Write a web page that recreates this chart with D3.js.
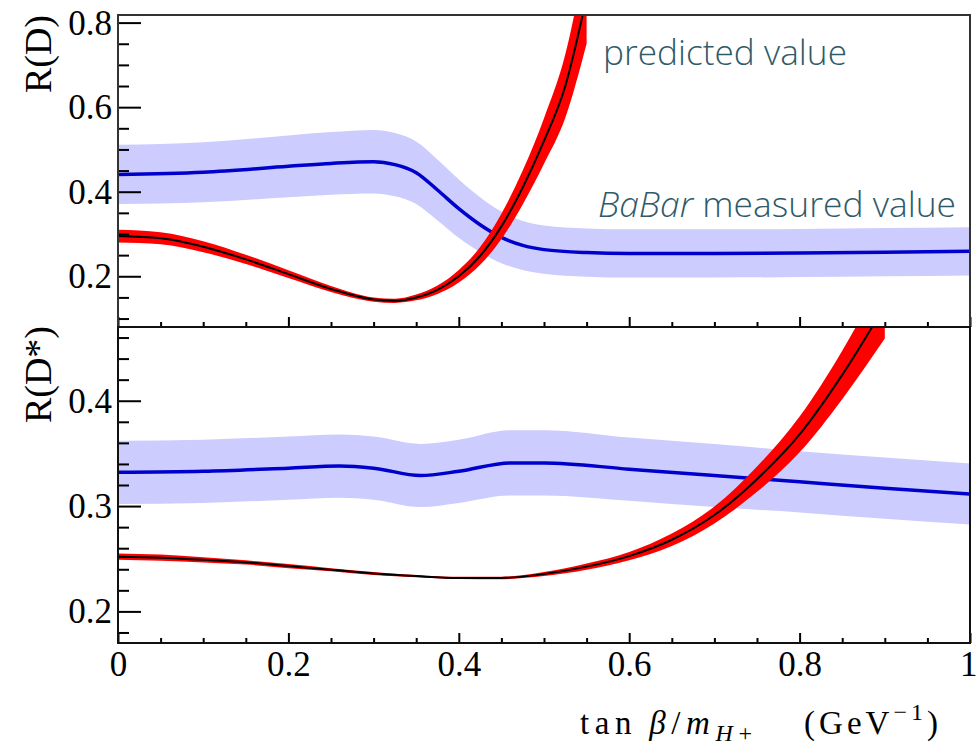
<!DOCTYPE html>
<html>
<head>
<meta charset="utf-8">
<script src="https://cdn.jsdelivr.net/npm/d3@7"></script>
<style>
  html, body { margin: 0; padding: 0; background: #fff; }
  svg { display: block; }
</style>
</head>
<body>
<svg id="chart" width="976" height="750"></svg>
<script>
// x axis: tan(beta)/m_H+ in GeV^-1
const xMajorTicks = [0, 0.2, 0.4, 0.6, 0.8, 1];
const xTickLabels = ["0", "0.2", "0.4", "0.6", "0.8", "1"];

// R(D) panel
const rdTicks = [0.2, 0.4, 0.6, 0.8];
const rdTickLabels = ["0.2", "0.4", "0.6", "0.8"];

// R(D) predicted (2HDM type II) with uncertainty
const xRdPred   = [0, 0.05, 0.1, 0.15, 0.2, 0.25, 0.3, 0.325, 0.35, 0.375, 0.4, 0.425, 0.45, 0.475, 0.5, 0.525, 0.55];
const rdPred    = [0.295, 0.290, 0.270, 0.240, 0.205, 0.170, 0.145, 0.142, 0.150, 0.168, 0.200, 0.248, 0.318, 0.410, 0.520, 0.650, 0.860];
const rdPredErr = [0.015, 0.014, 0.013, 0.011, 0.009, 0.007, 0.005, 0.005, 0.007, 0.010, 0.015, 0.021, 0.030, 0.040, 0.054, 0.075, 0.110];

// R(D) measured by BaBar with uncertainty
const xRdMeas   = [0, 0.1, 0.2, 0.25, 0.3, 0.325, 0.35, 0.375, 0.4, 0.425, 0.45, 0.475, 0.5, 0.55, 0.6, 0.7, 0.8, 0.9, 1.0];
const rdMeas    = [0.441, 0.446, 0.460, 0.467, 0.471, 0.464, 0.445, 0.404, 0.360, 0.322, 0.292, 0.273, 0.263, 0.256, 0.254, 0.254, 0.255, 0.257, 0.259];
const rdMeasErr = [0.070, 0.071, 0.073, 0.074, 0.075, 0.075, 0.074, 0.072, 0.069, 0.065, 0.061, 0.058, 0.057, 0.057, 0.057, 0.057, 0.057, 0.057, 0.057];

// R(D*) panel
const rdsTicks = [0.2, 0.3, 0.4];
const rdsTickLabels = ["0.2", "0.3", "0.4"];

// R(D*) predicted with uncertainty
const xRdsPred   = [0, 0.05, 0.1, 0.15, 0.2, 0.25, 0.3, 0.35, 0.4, 0.45, 0.5, 0.55, 0.6, 0.65, 0.7, 0.75, 0.8, 0.85, 0.9];
const rdsPred    = [0.252, 0.251, 0.249, 0.2465, 0.243, 0.2395, 0.236, 0.2335, 0.2318, 0.2318, 0.2355, 0.2425, 0.2525, 0.268, 0.2915, 0.3255, 0.368, 0.4245, 0.490];
const rdsPredErr = [0.003, 0.003, 0.0025, 0.002, 0.002, 0.0015, 0.0015, 0.001, 0.001, 0.0012, 0.002, 0.003, 0.004, 0.006, 0.008, 0.012, 0.017, 0.023, 0.031];

// R(D*) measured by BaBar with uncertainty
const xRdsMeas   = [0, 0.1, 0.2, 0.26, 0.3, 0.355, 0.4, 0.46, 0.5, 0.6, 0.7, 0.8, 0.9, 1.0];
const rdsMeas    = [0.332, 0.333, 0.336, 0.338, 0.336, 0.329, 0.333, 0.341, 0.341, 0.335, 0.329, 0.323, 0.317, 0.3115];
const rdsMeasErr = [0.030, 0.030, 0.030, 0.030, 0.030, 0.030, 0.030, 0.031, 0.031, 0.030, 0.030, 0.029, 0.029, 0.029];

const svg = d3.select("#chart");

const left = 118, right = 970;
const topPanel = { top: 15, bottom: 327, domain: [0.08, 0.818] };
const botPanel = { top: 327, bottom: 643, domain: [0.17, 0.47] };

const x = d3.scaleLinear().domain([0, 1]).range([left, right]);
const yTop = d3.scaleLinear().domain(topPanel.domain).range([topPanel.bottom, topPanel.top]);
const yBot = d3.scaleLinear().domain(botPanel.domain).range([botPanel.bottom, botPanel.top]);

const serif = "'Liberation Serif', 'Times New Roman', serif";
const bandBlue = "#ccccff", lineBlue = "#0000cc", bandRed = "#ff0000";

function zip(xs, ys, es) {
  return xs.map((v, i) => ({ x: v, y: ys[i], e: es[i] }));
}

function drawPanel(y, name, pred, meas) {
  const clipId = "clip-" + name;
  svg.append("clipPath").attr("id", clipId)
    .append("rect")
    .attr("x", left).attr("y", y.range()[1])
    .attr("width", right - left).attr("height", y.range()[0] - y.range()[1]);

  const g = svg.append("g").attr("clip-path", `url(#${clipId})`);
  const band = d3.area().x(d => x(d.x)).y0(d => y(d.y - d.e)).y1(d => y(d.y + d.e)).curve(d3.curveMonotoneX);
  const line = d3.line().x(d => x(d.x)).y(d => y(d.y)).curve(d3.curveMonotoneX);

  g.append("path").datum(meas).attr("d", band).attr("fill", bandBlue);
  g.append("path").datum(meas).attr("d", line).attr("fill", "none")
    .attr("stroke", lineBlue).attr("stroke-width", 3.5);
  g.append("path").datum(pred).attr("d", band).attr("fill", bandRed);
  g.append("path").datum(pred).attr("d", line).attr("fill", "none")
    .attr("stroke", "#000").attr("stroke-width", 2);
}

drawPanel(yTop, "rd", zip(xRdPred, rdPred, rdPredErr), zip(xRdMeas, rdMeas, rdMeasErr));
drawPanel(yBot, "rds", zip(xRdsPred, rdsPred, rdsPredErr), zip(xRdsMeas, rdsMeas, rdsMeasErr));

// Axes: ticks point inward, minor ticks without labels
function yAxes(y, ticks, labels, minorStep) {
  const [lo, hi] = y.domain();
  const minors = d3.range(Math.ceil(lo / minorStep - 1e-6), Math.floor(hi / minorStep + 1e-6) + 1)
    .map(k => +(k * minorStep).toFixed(4))
    .filter(v => !ticks.some(t => Math.abs(t - v) < 1e-6));
  const gMinor = svg.append("g").attr("transform", `translate(${left},0)`)
    .call(d3.axisLeft(y).tickValues(minors).tickSizeInner(-11).tickSizeOuter(0).tickFormat(""));
  const gMajor = svg.append("g").attr("transform", `translate(${left},0)`)
    .call(d3.axisLeft(y).tickValues(ticks).tickSizeInner(-23).tickSizeOuter(0).tickPadding(6)
      .tickFormat((d, i) => labels[i]));
  [gMinor, gMajor].forEach(g => {
    g.select(".domain").remove();
    g.selectAll(".tick line").attr("stroke", "#000").attr("stroke-width", 2);
  });
  gMajor.selectAll(".tick text")
    .attr("font-family", serif).attr("font-size", 35).attr("fill", "#000")
    .attr("x", -6).attr("dy", "0.33em");
}

function xAxes(yPos, withLabels) {
  const minors = d3.range(0, 21).map(k => +(k * 0.05).toFixed(2))
    .filter(v => !xMajorTicks.some(t => Math.abs(t - v) < 1e-6));
  const gMinor = svg.append("g").attr("transform", `translate(0,${yPos})`)
    .call(d3.axisBottom(x).tickValues(minors).tickSizeInner(-5).tickSizeOuter(0).tickFormat(""));
  const gMajor = svg.append("g").attr("transform", `translate(0,${yPos})`)
    .call(d3.axisBottom(x).tickValues(xMajorTicks).tickSizeInner(-10).tickSizeOuter(0)
      .tickFormat((d, i) => withLabels ? xTickLabels[i] : ""));
  [gMinor, gMajor].forEach(g => {
    g.select(".domain").remove();
    g.selectAll(".tick line").attr("stroke", "#000").attr("stroke-width", 2);
  });
  gMajor.selectAll(".tick text")
    .attr("font-family", serif).attr("font-size", 35).attr("fill", "#000")
    .attr("y", 0).attr("dy", "0.95em");
  // keep the last label inside the page edge
  gMajor.selectAll(".tick text").filter(d => d === 1)
    .attr("text-anchor", "end").attr("x", 7);
}

yAxes(yTop, rdTicks, rdTickLabels, 0.05);
yAxes(yBot, rdsTicks, rdsTickLabels, 0.02);
xAxes(topPanel.bottom, false);
xAxes(botPanel.bottom, true);

// Frames
svg.append("rect").attr("x", left).attr("y", topPanel.top)
  .attr("width", right - left).attr("height", topPanel.bottom - topPanel.top)
  .attr("fill", "none").attr("stroke", "#333").attr("stroke-width", 2);
svg.append("rect").attr("x", left).attr("y", botPanel.top)
  .attr("width", right - left).attr("height", botPanel.bottom - botPanel.top)
  .attr("fill", "none").attr("stroke", "#111").attr("stroke-width", 2);

// Y titles, right-aligned to the top of each panel
svg.append("text")
  .attr("transform", `translate(51,${topPanel.top}) rotate(-90)`)
  .attr("text-anchor", "end").attr("font-family", serif).attr("font-size", 38).attr("fill", "#000")
  .text("R(D)");
svg.append("text")
  .attr("transform", `translate(51,${botPanel.top - 1}) rotate(-90)`)
  .attr("text-anchor", "end").attr("font-family", serif).attr("font-size", 38).attr("fill", "#000")
  .text("R(D*)");

// X title: tan β / m_{H+}  (GeV^{-1})
const xt = svg.append("text")
  .attr("x", 580).attr("y", 734)
  .attr("font-family", serif).attr("font-size", 33).attr("fill", "#000")
  .attr("textLength", 172).attr("lengthAdjust", "spacing");
xt.append("tspan").text("tan\u2009");
xt.append("tspan").attr("font-style", "italic").text("β");
xt.append("tspan").text("/");
xt.append("tspan").attr("font-style", "italic").text("m");
xt.append("tspan").attr("font-style", "italic").attr("font-size", 24).attr("dy", 7).text("H");
xt.append("tspan").attr("font-size", 24).text("+");
const xu = svg.append("text")
  .attr("x", 938).attr("y", 734).attr("text-anchor", "end")
  .attr("font-family", serif).attr("font-size", 33).attr("fill", "#000")
  .attr("textLength", 134).attr("lengthAdjust", "spacing");
xu.append("tspan").text("(GeV");
xu.append("tspan").attr("font-size", 24).attr("dy", -14).text("\u22121");
xu.append("tspan").attr("dy", 14).text(")");

// Annotations
const noteColor = "#2f5a69";
const sans = "'Open Sans', 'Lato', sans-serif";
svg.append("text").attr("x", 603).attr("y", 65)
  .attr("font-family", sans).attr("font-weight", 300).attr("font-size", 34).attr("fill", noteColor)
  .attr("textLength", 244).attr("lengthAdjust", "spacingAndGlyphs")
  .text("predicted value");
const bb = svg.append("text").attr("x", 598).attr("y", 217)
  .attr("font-family", sans).attr("font-weight", 300).attr("font-size", 34).attr("fill", noteColor)
  .attr("textLength", 358).attr("lengthAdjust", "spacingAndGlyphs");
bb.append("tspan").attr("font-style", "italic").text("BaBar");
bb.append("tspan").text(" measured value");
</script>
</body>
</html>
